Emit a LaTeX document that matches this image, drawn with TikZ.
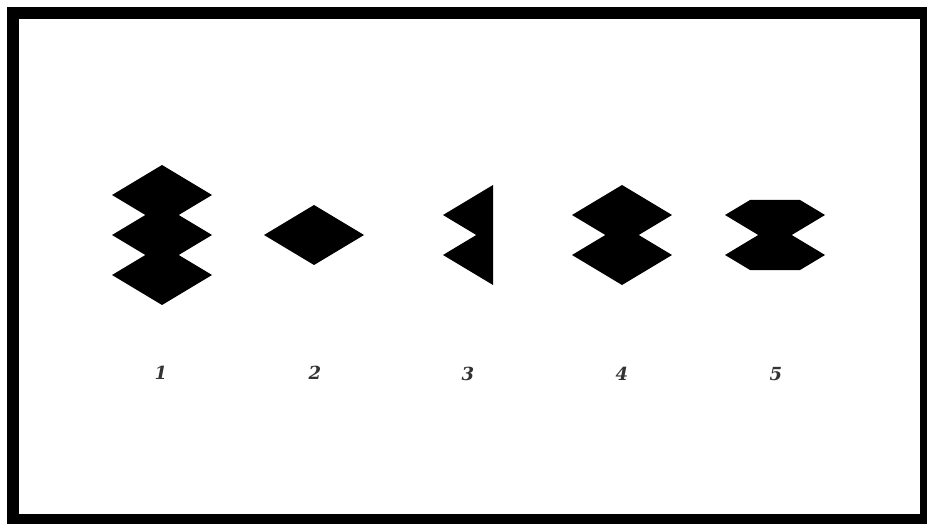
\documentclass[tikz,border=0pt]{standalone}
\usepackage{tikz}
\usepackage{fontspec}
\newfontfamily\numfont{DejaVu Serif}
\usetikzlibrary{calc}

\begin{document}
\begin{tikzpicture}[
  x=1pt, y=-1pt,
  piece/.style={fill=black, draw=none},
  frame/.style={draw=black, line width=12pt},
  numlabel/.style={font=\numfont\fontsize{18}{21}\selectfont\bfseries\itshape, text=black!80}
]
\useasboundingbox (0,0) rectangle (927,524);

% outer frame
\draw [frame] (13,13.5) rectangle (926,520);

% figure 1: three stacked diamonds
\foreach \cy in {195,235,275}
  \fill [piece] (162,\cy) +(-50,0) -- +(0,-30) -- +(50,0) -- +(0,30) -- cycle;

% figure 2: single diamond
\fill [piece] (314,235) +(-50,0) -- +(0,-30) -- +(50,0) -- +(0,30) -- cycle;

% figure 3: left half of two diamonds
\fill [piece] (493,185) -- (443,215) -- (476.3,235) -- (443,255) -- (493,285) -- cycle;

% figure 4: two stacked diamonds
\foreach \cy in {215,255}
  \fill [piece] (622,\cy) +(-50,0) -- +(0,-30) -- +(50,0) -- +(0,30) -- cycle;

% figure 5: two diamonds cut flat at top and bottom
\fill [piece] (750,200) -- (800,200) -- (825,215) -- (791.7,235) -- (825,255)
  -- (800,270) -- (750,270) -- (725,255) -- (758.3,235) -- (725,215) -- cycle;

% numbers
\node (lab1) [numlabel] at (161,373) {1};
\node (lab2) [numlabel] at (315,373) {2};
\node (lab3) [numlabel] at (468,374) {3};
\node (lab4) [numlabel] at (622,374) {4};
\node (lab5) [numlabel] at (776,374) {5};

\end{tikzpicture}
\end{document}
